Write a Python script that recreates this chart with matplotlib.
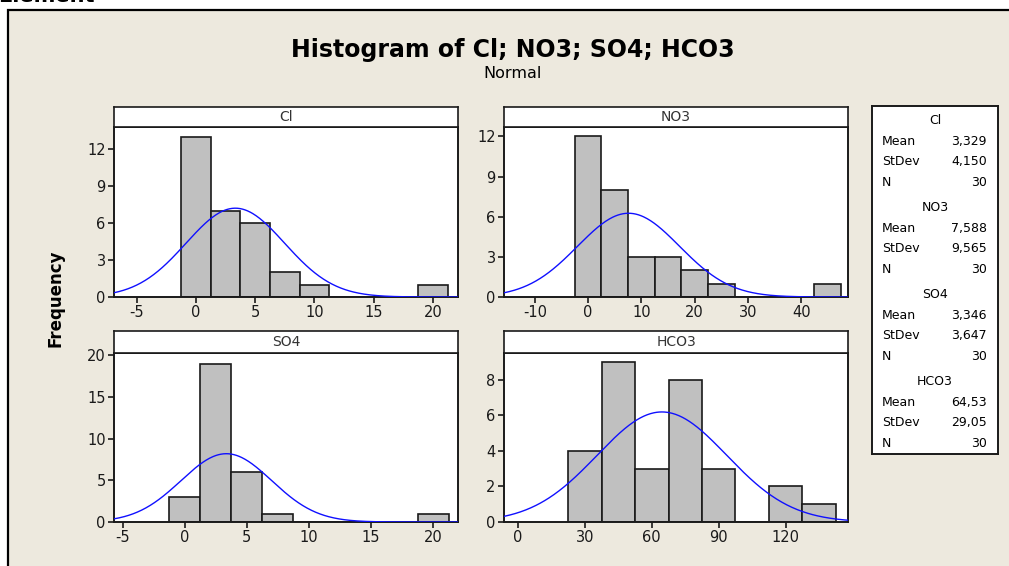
import numpy as np
import matplotlib.pyplot as plt
from matplotlib.patches import Rectangle

plt.rcParams["axes.unicode_minus"] = False

# histogram data (bin centres and counts)
cl_bins = [0, 2.5, 5, 7.5, 10, 12.5, 15, 17.5, 20]
cl_counts = [13, 7, 6, 2, 1, 0, 0, 0, 1]
no3_bins = [0, 5, 10, 15, 20, 25, 30, 35, 40, 45]
no3_counts = [12, 8, 3, 3, 2, 1, 0, 0, 0, 1]
so4_bins = [0, 2.5, 5, 7.5, 10, 12.5, 15, 17.5, 20]
so4_counts = [3, 19, 6, 1, 0, 0, 0, 0, 1]
hco3_bins = [30, 45, 60, 75, 90, 105, 120, 135]
hco3_counts = [4, 9, 3, 8, 3, 0, 2, 1]

names = ["Cl", "NO3", "SO4", "HCO3"]
means = [3.329, 7.588, 3.346, 64.53]
stdevs = [4.150, 9.565, 3.647, 29.05]
mean_txt = ["3,329", "7,588", "3,346", "64,53"]
stdev_txt = ["4,150", "9,565", "3,647", "29,05"]
n_obs = [30, 30, 30, 30]

W, H = 1009, 566
BG = "#EDE9DE"
fig = plt.figure(figsize=(W / 100, H / 100), dpi=100, facecolor="white")


def px_axes(x0, y0, x1, y1, **kw):
    return fig.add_axes([x0 / W, 1 - y1 / H, (x1 - x0) / W, (y1 - y0) / H], **kw)


# beige panel with its border
fig.patches.append(Rectangle((8 / W, -0.05), 1.1, 1 - 10 / H + 0.05,
                             transform=fig.transFigure, facecolor=BG,
                             edgecolor="black", linewidth=1.6, zorder=-5))
fig.text(-0.002, 1 - 2.5 / H, "Element", fontsize=15, fontweight="bold",
         va="baseline", ha="left")

fig.text(513 / W, 1 - 50 / H, "Histogram of Cl; NO3; SO4; HCO3",
         fontsize=17, fontweight="bold", ha="center", va="center")
fig.text(513 / W, 1 - 74 / H, "Normal", fontsize=11.5, ha="center", va="center")
fig.text(56 / W, 1 - 298 / H, "Frequency", fontsize=12, fontweight="bold",
         rotation=90, ha="center", va="center")

panels = [
    # name, bins, counts, width, plot box (px), xlim, ylim, xticks, yticks
    ("Cl", cl_bins, cl_counts, 2.5, (114, 127, 458, 297), (-6.9, 22.1), 13.8,
     [-5, 0, 5, 10, 15, 20], [0, 3, 6, 9, 12]),
    ("NO3", no3_bins, no3_counts, 5, (504, 127, 848, 297), (-15.8, 48.8), 12.7,
     [-10, 0, 10, 20, 30, 40], [0, 3, 6, 9, 12]),
    ("SO4", so4_bins, so4_counts, 2.5, (114, 353, 458, 522), (-5.7, 22.0), 20.3,
     [-5, 0, 5, 10, 15, 20], [0, 5, 10, 15, 20]),
    ("HCO3", hco3_bins, hco3_counts, 15, (504, 353, 848, 522), (-6.3, 148), 9.49,
     [0, 30, 60, 90, 120], [0, 2, 4, 6, 8]),
]

for i, (name, bins, counts, width, box, xlim, ytop, xt, yt) in enumerate(panels):
    x0, y0, x1, y1 = box
    ax = px_axes(x0, y0, x1, y1)
    ax.set_facecolor("white")
    ax.bar(bins, counts, width=width, color="#C0C0C0", edgecolor="#1a1a1a",
           linewidth=1.2, zorder=2)
    xs = np.linspace(xlim[0], xlim[1], 400)
    scale = n_obs[i] * width / (stdevs[i] * np.sqrt(2 * np.pi))
    ys = scale * np.exp(-0.5 * ((xs - means[i]) / stdevs[i]) ** 2)
    ax.plot(xs, ys, color="#1010FF", linewidth=1.0, zorder=3)
    ax.set_xlim(*xlim)
    ax.set_ylim(0, ytop)
    ax.set_xticks(xt)
    ax.set_yticks(yt)
    ax.tick_params(direction="out", length=4, width=1.2, labelsize=10.5,
                   colors="#1a1a1a", pad=2)
    for s in ax.spines.values():
        s.set_linewidth(1.4)
        s.set_color("#1a1a1a")

    st = px_axes(x0, y0 - (20 if y0 < 200 else 22), x1, y0)
    st.set_facecolor("white")
    st.set_xticks([])
    st.set_yticks([])
    for s in st.spines.values():
        s.set_linewidth(1.2)
        s.set_color("#1a1a1a")
    st.text(0.5, 0.5, name, ha="center", va="center", fontsize=10,
            color="#333333", transform=st.transAxes)

# legend box with summary statistics
lg = px_axes(872, 106, 998, 454)
lg.set_facecolor("white")
lg.set_xlim(872, 998)
lg.set_ylim(454, 106)
lg.set_xticks([])
lg.set_yticks([])
for s in lg.spines.values():
    s.set_linewidth(1.4)
    s.set_color("#1a1a1a")

y = 120.7
for i, name in enumerate(names):
    lg.text(935, y, name, ha="center", va="center", fontsize=9)
    rows = [("Mean", mean_txt[i]), ("StDev", stdev_txt[i]), ("N", str(n_obs[i]))]
    for j, (lab, val) in enumerate(rows):
        yy = y + 20.5 * (j + 1)
        lg.text(882, yy, lab, ha="left", va="center", fontsize=9)
        lg.text(987, yy, val, ha="right", va="center", fontsize=9)
    y += 87

fig.savefig("out.png", dpi=100, facecolor="white")
